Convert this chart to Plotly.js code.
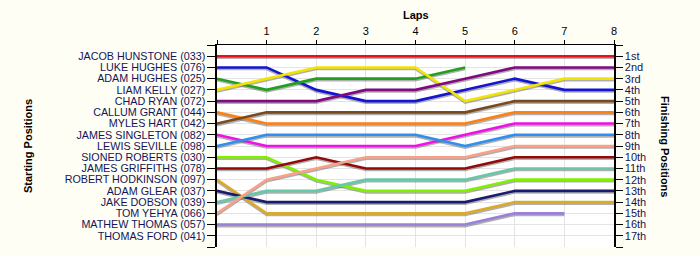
<!DOCTYPE html>
<html>
<head>
<meta charset="utf-8">
<script src="https://cdn.plot.ly/plotly-3.0.1.min.js"></script>
<style>
  html, body { margin: 0; padding: 0; background: #fefef4; }
  #chart { width: 700px; height: 255px; }
</style>
</head>
<body>
<div id="chart"></div>
<script>
// ---- Data ----
const laps = [0, 1, 2, 3, 4, 5, 6, 7, 8];
const lapLabels = ['', '1', '2', '3', '4', '5', '6', '7', '8'];

const drivers = [
  'JACOB HUNSTONE (033)', 'LUKE HUGHES (076)', 'ADAM HUGHES (025)', 'LIAM KELLY (027)',
  'CHAD RYAN (072)', 'CALLUM GRANT (044)', 'MYLES HART (042)', 'JAMES SINGLETON (082)',
  'LEWIS SEVILLE (098)', 'SIONED ROBERTS (030)', 'JAMES GRIFFITHS (078)', 'ROBERT HODKINSON (097)',
  'ADAM GLEAR (037)', 'JAKE DOBSON (039)', 'TOM YEHYA (066)', 'MATHEW THOMAS (057)',
  'THOMAS FORD (041)'
];

const finishLabels = ['1st', '2nd', '3rd', '4th', '5th', '6th', '7th', '8th', '9th', '10th',
  '11th', '12th', '13th', '14th', '15th', '16th', '17th'];

// position of each driver at the end of each lap (lap 0 = grid)
const posJacobHunstone   = [1, 1, 1, 1, 1, 1, 1, 1, 1];
const posLukeHughes      = [2, 2, 4, 5, 5, 4, 3, 4, 4];
const posAdamHughes      = [3, 4, 3, 3, 3, 2];
const posLiamKelly       = [4, 3, 2, 2, 2, 5, 4, 3, 3];
const posChadRyan        = [5, 5, 5, 4, 4, 3, 2, 2, 2];
const posCallumGrant     = [6, 7, 7, 7, 7, 7, 6, 6, 6];
const posMylesHart       = [7, 6, 6, 6, 6, 6, 5, 5, 5];
const posJamesSingleton  = [8, 9, 9, 9, 9, 8, 7, 7, 7];
const posLewisSeville    = [9, 8, 8, 8, 8, 9, 8, 8, 8];
const posSionedRoberts   = [10, 10, 12, 13, 13, 13, 12, 12, 12];
const posJamesGriffiths  = [11, 11, 10, 11, 11, 11, 10, 10, 10];
const posRobertHodkinson = [12, 15, 15, 15, 15, 15, 14, 14, 14];
const posAdamGlear       = [13, 14, 14, 14, 14, 14, 13, 13, 13];
const posJakeDobson      = [14, 13, 13, 12, 12, 12, 11, 11, 11];
const posTomYehya        = [15, 12, 11, 10, 10, 10, 9, 9, 9];
const posMathewThomas    = [16, 16, 16, 16, 16, 16, 15, 15];
const posThomasFord      = [];

const positions = [
  posJacobHunstone, posLukeHughes, posAdamHughes, posLiamKelly, posChadRyan,
  posCallumGrant, posMylesHart, posJamesSingleton, posLewisSeville, posSionedRoberts,
  posJamesGriffiths, posRobertHodkinson, posAdamGlear, posJakeDobson, posTomYehya,
  posMathewThomas, posThomasFord
];

// ---- Styles ----
const colors = [
  '#f00a14', '#1414d2', '#20a020', '#f2e400', '#800a80', '#ff8010', '#7a4a1e', '#f010e8',
  '#2e8ff0', '#80f000', '#940a0a', '#dcaa28', '#1a1a70', '#66c8a8', '#f8a088', '#9a80d8',
  '#888888'
];

const nRows = drivers.length;
const rowVals = [];
for (let i = 0; i <= nRows + 1; i++) rowVals.push(i);
const leftText = [''].concat(drivers, ['']);
const rightText = [''].concat(finishLabels, ['']);

const shadowOffset = 0.14;
const traces = [];
positions.forEach((p, i) => {
  if (!p.length) return;
  const x = laps.slice(0, p.length);
  traces.push({
    x: x, y: p.map(v => v + shadowOffset), type: 'scatter', mode: 'lines',
    line: { color: 'rgba(110,110,110,0.55)', width: 2.6 }, hoverinfo: 'skip', showlegend: false
  });
});
positions.forEach((p, i) => {
  if (!p.length) return;
  const x = laps.slice(0, p.length);
  traces.push({
    x: x, y: p, type: 'scatter', mode: 'lines', name: drivers[i],
    line: { color: colors[i], width: 2.6 }, showlegend: false
  });
});
// invisible trace to activate the right axis
traces.push({ x: [0], y: [1], yaxis: 'y2', mode: 'markers', marker: { opacity: 0 }, showlegend: false, hoverinfo: 'skip' });

const labelFont = { family: 'Liberation Sans, Arial, sans-serif', size: 10.75, color: '#14145a' };
const titleFont = { family: 'Liberation Sans, Arial, sans-serif', size: 11, color: '#000000', weight: 'bold' };

const layout = {
  width: 700, height: 255,
  margin: { l: 217, r: 86, t: 45, b: 8, pad: 0 },
  paper_bgcolor: '#fefef4',
  plot_bgcolor: '#ffffff',
  showlegend: false,
  xaxis: {
    side: 'top', range: [0, 8], tickvals: laps, ticktext: lapLabels,
    showline: true, linecolor: '#000000', linewidth: 1.2,
    ticks: 'outside', ticklen: 4, tickcolor: '#000000', tickwidth: 1,
    showgrid: true, gridcolor: '#e4e4e4', gridwidth: 1, zeroline: false,
    tickfont: { family: 'Liberation Sans, Arial, sans-serif', size: 11, color: '#000000' },
    fixedrange: true
  },
  yaxis: {
    range: [nRows + 1, 0], tickvals: rowVals, ticktext: leftText,
    showline: true, linecolor: '#000000', linewidth: 1.6,
    ticks: 'outside', ticklen: 8, tickcolor: '#000000', tickwidth: 1,
    showgrid: true, gridcolor: '#e4e4e4', gridwidth: 1, zeroline: false,
    tickfont: labelFont, fixedrange: true
  },
  yaxis2: {
    overlaying: 'y', side: 'right',
    range: [nRows + 1, 0], tickvals: rowVals, ticktext: rightText,
    showline: true, linecolor: '#000000', linewidth: 1.6,
    ticks: 'outside', ticklen: 7, tickcolor: '#000000', tickwidth: 1,
    showgrid: false, zeroline: false,
    tickfont: { family: 'Liberation Sans, Arial, sans-serif', size: 11, color: '#14145a' },
    fixedrange: true
  },
  annotations: [
    { text: 'Laps', xref: 'paper', yref: 'paper', x: 0.5, y: 1, xanchor: 'center', yanchor: 'middle',
      yshift: 30, showarrow: false, font: titleFont },
    { text: 'Starting Positions', xref: 'paper', yref: 'paper', x: 0, y: 0.5, xanchor: 'center', yanchor: 'middle',
      xshift: -189, textangle: -90, showarrow: false, font: titleFont },
    { text: 'Finishing Positions', xref: 'paper', yref: 'paper', x: 1, y: 0.5, xanchor: 'center', yanchor: 'middle',
      xshift: 51, textangle: 90, showarrow: false, font: titleFont }
  ]
};

Plotly.newPlot('chart', traces, layout, { staticPlot: true, displayModeBar: false });
</script>
</body>
</html>
